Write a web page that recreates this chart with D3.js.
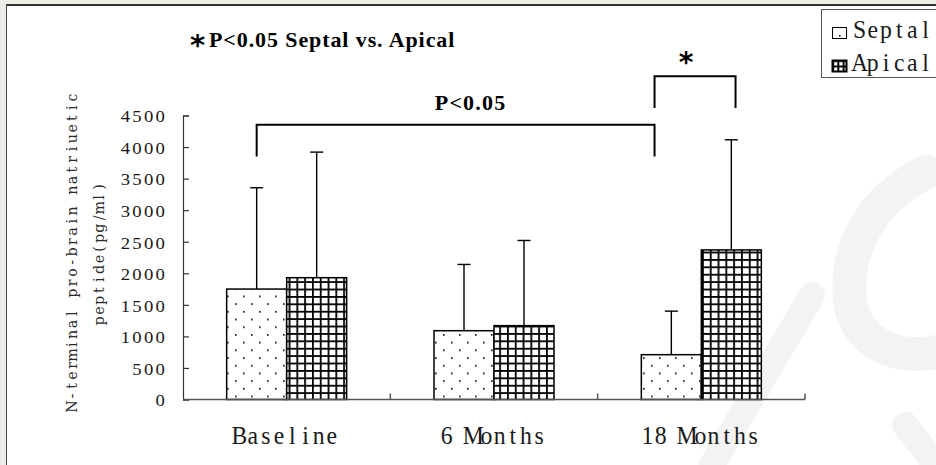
<!DOCTYPE html>
<html lang="en">
<head>
<meta charset="utf-8">
<script src="https://d3js.org/d3.v7.min.js"></script>
<style type="text/css">
  body { margin: 0; background-color: #efeee6; }
  svg { display: block; }
  /* stand-in for the SimSun look: serif glyphs on a fixed cell */
  .simsun { font-family: "Liberation Serif", "DejaVu Serif", serif; fill: #1a1a1a; }
  .simsun.wide { font-family: "DejaVu Serif", serif; fill: #2a2a2a; }
  .bold { font-family: "Liberation Serif", "Times New Roman", serif; font-weight: bold; fill: #000; }
</style>
</head>
<body>
<script type="text/javascript">
// data
var categories = ["Baseline", "6 Months", "18 Months"];
var series = ["Septal", "Apical"];
var septalMean = [1750, 1090, 710];
var septalSD   = [1605, 1050, 690];
var apicalMean = [1930, 1170, 2370];
var apicalSD   = [1990, 1350, 1745];
var yTicks = [0, 500, 1000, 1500, 2000, 2500, 3000, 3500, 4000, 4500];

var width = 936, height = 465;

var svg = d3.select("body").append("svg")
    .attr("width", width)
    .attr("height", height);

// monospace-like text: every char gets its own cell, centred
function monoText(parent, str, x0, y0, o) {
    var n = str.length, c = o.cell / o.sx;
    var start = o.align == "end" ? -n * c : (o.align == "middle" ? -n * c / 2 : 0);
    var xs = d3.range(n).map(function(i) { return (start + c * (i + 0.5)).toFixed(2); });
    return parent.append("g")
        .attr("transform", "translate(" + x0 + "," + y0 + ")" + (o.rotate ? " rotate(-90)" : "") + " scale(" + o.sx + ",1)")
      .append("text")
        .attr("class", o.wide ? "simsun wide" : "simsun")
        .attr("x", xs.join(" "))
        .attr("y", 0)
        .attr("text-anchor", "middle")
        .style("font-size", o.size + "px")
        .text(str);
}

// pattern fills
var defs = svg.append("defs");
var dots = defs.append("pattern")
    .attr("id", "dots")
    .attr("patternUnits", "userSpaceOnUse")
    .attr("width", 16).attr("height", 15.4);
dots.append("rect").attr("width", 16).attr("height", 15.4).attr("fill", "#fff");
dots.append("rect").attr("x", 3).attr("y", 3).attr("width", 1.6).attr("height", 1.6).attr("fill", "#000");
dots.append("rect").attr("x", 11).attr("y", 10.7).attr("width", 1.6).attr("height", 1.6).attr("fill", "#000");

var grid = defs.append("pattern")
    .attr("id", "grid")
    .attr("patternUnits", "userSpaceOnUse")
    .attr("width", 7.8).attr("height", 7.4);
grid.append("rect").attr("width", 7.8).attr("height", 7.4).attr("fill", "#fff");
grid.append("rect").attr("x", 0).attr("y", 0).attr("width", 1.8).attr("height", 7.4).attr("fill", "#000");
grid.append("rect").attr("x", 0).attr("y", 0).attr("width", 7.8).attr("height", 1.8).attr("fill", "#000");

var smallGrid = defs.append("pattern")
    .attr("id", "smallgrid")
    .attr("patternUnits", "userSpaceOnUse")
    .attr("x", 832).attr("y", 60)
    .attr("width", 5.3).attr("height", 5.5);
smallGrid.append("rect").attr("width", 5.3).attr("height", 5.5).attr("fill", "#fff");
smallGrid.append("rect").attr("width", 2).attr("height", 5.5).attr("fill", "#000");
smallGrid.append("rect").attr("width", 5.3).attr("height", 2).attr("fill", "#000");

// white page with dark top / left edge
svg.append("rect").attr("x", 6).attr("y", 4).attr("width", width).attr("height", height)
    .attr("fill", "#fff");
svg.append("line").attr("x1", 6).attr("x2", width).attr("y1", 5).attr("y2", 5)
    .attr("stroke", "#333").attr("stroke-width", 2);
svg.append("line").attr("x1", 6.5).attr("x2", 6.5).attr("y1", 4).attr("y2", height)
    .attr("stroke", "#444").attr("stroke-width", 1);

// faint watermark
var wm = svg.append("g").attr("fill", "none").attr("stroke", "#f3f3f3").attr("stroke-linecap", "round");
wm.append("path").attr("d", "M 926 172 C 870 200, 845 250, 850 300 C 855 345, 900 360, 936 352")
    .attr("stroke-width", 34);
wm.append("path").attr("d", "M 712 465 L 812 295").attr("stroke-width", 26);
wm.append("path").attr("d", "M 905 425 L 936 465").attr("stroke-width", 26);

var x = d3.scaleBand()
    .domain(categories)
    .range([183, 805]);
var x1 = d3.scaleBand()
    .domain(series)
    .range([0, 120]);
var barOffset = (x.bandwidth() - 120) / 2;
var y = d3.scaleLinear()
    .domain([0, 4500])
    .range([399.5, 115.5]);

// build rows for bars
var rows = [];
categories.forEach(function(c, i) {
    rows.push({cat: c, s: "Septal", v: septalMean[i], sd: septalSD[i], fill: "url(#dots)"});
    rows.push({cat: c, s: "Apical", v: apicalMean[i], sd: apicalSD[i], fill: "url(#grid)"});
});
function cx(d) { return x(d.cat) + barOffset + x1(d.s) + x1.bandwidth() / 2; }

// error bars (upper only)
var eb = svg.append("g").attr("stroke", "#000").attr("stroke-width", 1.4);
eb.selectAll(".stem").data(rows).enter().append("line")
    .attr("x1", cx).attr("x2", cx)
    .attr("y1", function(d) { return y(d.v); })
    .attr("y2", function(d) { return y(d.v + d.sd); });
eb.selectAll(".cap").data(rows).enter().append("line")
    .attr("x1", function(d) { return cx(d) - 6.5; })
    .attr("x2", function(d) { return cx(d) + 6.5; })
    .attr("y1", function(d) { return y(d.v + d.sd); })
    .attr("y2", function(d) { return y(d.v + d.sd); });

// bars
svg.append("g").selectAll("rect").data(rows).enter().append("rect")
    .attr("x", function(d) { return x(d.cat) + barOffset + x1(d.s); })
    .attr("y", function(d) { return y(d.v); })
    .attr("width", x1.bandwidth())
    .attr("height", function(d) { return y(0) - y(d.v); })
    .attr("fill", function(d) { return d.fill; })
    .attr("stroke", "#000")
    .attr("stroke-width", 1.5);

// y axis, ticks pointing in
var yAxis = svg.append("g")
    .attr("transform", "translate(183,0)")
    .call(d3.axisRight(y).tickValues(yTicks).tickSize(6).tickFormat(""));
yAxis.select(".domain").attr("stroke", "#333").attr("stroke-width", 1.2);
yAxis.selectAll(".tick line").attr("stroke", "#333").attr("stroke-width", 1.2);
var yLab = svg.append("g");
yTicks.forEach(function(d) {
    monoText(yLab, String(d), 166, y(d) + 6.8, {size: 17, cell: 11.6, sx: 1.1, align: "end"});
});

// x axis with ticks at band edges
var xAxis = svg.append("g").attr("stroke", "#555").attr("stroke-width", 1.5);
xAxis.append("line").attr("x1", 183).attr("x2", 805).attr("y1", y(0)).attr("y2", y(0));
xAxis.selectAll(".xt").data(categories).enter().append("line")
    .attr("x1", function(d) { return x(d) + x.bandwidth(); })
    .attr("x2", function(d) { return x(d) + x.bandwidth(); })
    .attr("y1", y(0)).attr("y2", y(0) - 6);
var xLab = svg.append("g");
categories.forEach(function(c) {
    monoText(xLab, c, x(c) + x.bandwidth() / 2 - 1, 444, {size: 25, cell: 13.2, sx: 0.95, align: "middle"});
});

// y axis title (two lines)
monoText(svg, "N-terminal pro-brain natriuetic", 77, 252, {size: 15, cell: 10.3, sx: 0.95, align: "middle", rotate: true, wide: true});
monoText(svg, "peptide(pg/ml)", 104, 254, {size: 15, cell: 10.3, sx: 0.95, align: "middle", rotate: true, wide: true});

// significance brackets, legs given as shift (in bar widths) from a bar centre
var brackets = [
    {a: {cat: "Baseline", s: "Septal"}, aShift: 0, b: {cat: "18 Months", s: "Septal"}, bShift: -0.28,
     top: 4355, leg: 3850, label: "P<0.05"},
    {a: {cat: "18 Months", s: "Septal"}, aShift: -0.28, b: {cat: "18 Months", s: "Apical"}, bShift: 0.07,
     top: 5120, leg: 4620, label: "*"}
];
var bg = svg.append("g");
brackets.forEach(function(b) {
    var bw = x1.bandwidth();
    var xa = cx(b.a) + b.aShift * bw, xb = cx(b.b) + b.bShift * bw;
    bg.append("path")
        .attr("d", "M" + xa + "," + y(b.leg) + "V" + y(b.top) + "H" + xb + "V" + y(b.leg))
        .attr("fill", "none").attr("stroke", "#000").attr("stroke-width", 2);
    if (b.label == "*") {
        bg.append("text")
            .attr("x", (xa + xb) / 2 - 9).attr("y", y(b.top) - 4)
            .attr("text-anchor", "middle")
            .style("font-family", "DejaVu Sans, sans-serif")
            .style("font-weight", "bold")
            .style("font-size", "28px")
            .text("*");
    } else {
        bg.append("text").attr("class", "bold")
            .attr("x", (xa + xb) / 2 + 15).attr("y", y(b.top) - 15)
            .attr("text-anchor", "middle")
            .style("font-size", "22px")
            .style("letter-spacing", "1.2px")
            .text(b.label);
    }
});

// title
svg.append("text")
    .attr("x", 197.5).attr("y", 55)
    .attr("text-anchor", "middle")
    .style("font-family", "DejaVu Sans, sans-serif")
    .style("font-weight", "bold")
    .style("font-size", "29px")
    .text("*");
svg.append("text").attr("class", "bold")
    .attr("x", 209).attr("y", 47)
    .style("font-size", "22px")
    .style("letter-spacing", "0.9px")
    .text("P<0.05 Septal vs. Apical");

// legend
var lg = svg.append("g");
lg.append("rect").attr("x", 821.5).attr("y", 9.5).attr("width", 140).attr("height", 68)
    .attr("fill", "#fff").attr("stroke", "#555");
series.forEach(function(s, i) {
    var yy = 27 + i * 33;
    lg.append("rect").attr("x", 832.5).attr("y", yy + 0.5).attr("width", 14).attr("height", 11)
        .attr("fill", i == 0 ? "#fff" : "url(#smallgrid)")
        .attr("stroke", "#000").attr("stroke-width", i == 0 ? 1 : 2);
    if (i == 0) {
        lg.append("rect").attr("x", 839).attr("y", yy + 8).attr("width", 1.5).attr("height", 1.5).attr("fill", "#000");
    }
    monoText(lg, s, 853, yy + 11, {size: 25, cell: 13.2, sx: 0.95, align: "start"});
});
</script>
</body>
</html>
